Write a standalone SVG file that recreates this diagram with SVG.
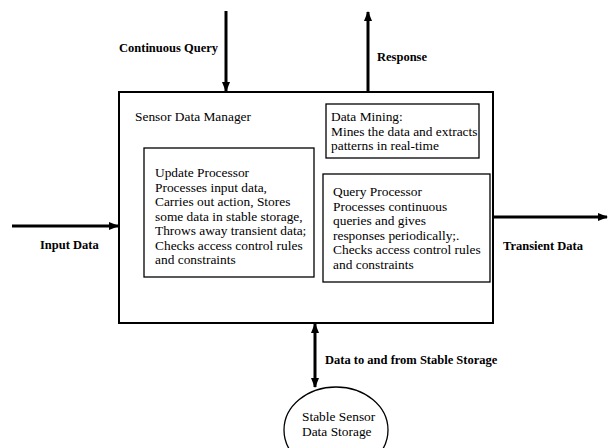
<svg xmlns="http://www.w3.org/2000/svg" width="608" height="448" viewBox="0 0 608 448">
<style>
text{font-family:"Liberation Serif","Times New Roman",serif;fill:#000}
.t{font-size:13.4px}
.b{font-size:12.5px;font-weight:bold}
.box{fill:none;stroke:#000;stroke-width:1.3}
.main{fill:#fff;stroke:#000;stroke-width:2}
.ar{stroke:#000;stroke-width:3;fill:none}
</style>
<defs>
<marker id="ah" markerUnits="userSpaceOnUse" markerWidth="10" markerHeight="10" viewBox="0 0 10 10" refX="9" refY="5" orient="auto-start-reverse">
<path d="M0,1 L10,5 L0,9 Z" fill="#000"/>
</marker>
</defs>
<g id="connectors">
<line class="ar" x1="226" y1="11" x2="226" y2="91" marker-end="url(#ah)"/>
<line class="ar" x1="368" y1="92" x2="368" y2="12" marker-end="url(#ah)"/>
<line class="ar" x1="12" y1="226" x2="118" y2="226" marker-end="url(#ah)"/>
<line class="ar" x1="493" y1="217" x2="607" y2="217" marker-end="url(#ah)"/>
<line class="ar" x1="315" y1="324" x2="315" y2="387" marker-start="url(#ah)" marker-end="url(#ah)"/>
<text class="b" x="119" y="52">Continuous Query</text>
<text class="b" x="377" y="61">Response</text>
<text class="b" x="40" y="249">Input Data</text>
<text class="b" x="503" y="250">Transient Data</text>
<text class="b" x="325" y="364">Data to and from Stable Storage</text>
</g>
<g id="manager">
<rect class="main" x="119" y="92" width="374" height="231"/>
<text class="t" x="135" y="121">Sensor Data Manager</text>
</g>
<g id="data-mining">
<rect class="box" x="326" y="104" width="153" height="54"/>
<text class="t" x="331" y="121">Data Mining:</text>
<text class="t" x="331" y="135.5">Mines the data and extracts</text>
<text class="t" x="331" y="150">patterns in real-time</text>
</g>
<g id="update-processor">
<rect class="box" x="144" y="148" width="170" height="129"/>
<text class="t" x="155" y="177">Update Processor</text>
<text class="t" x="155" y="191.5">Processes input data,</text>
<text class="t" x="155" y="206">Carries out action, Stores</text>
<text class="t" x="155" y="220.5">some data in stable storage,</text>
<text class="t" x="155" y="235">Throws away transient data;</text>
<text class="t" x="155" y="249.5">Checks access control rules</text>
<text class="t" x="155" y="264">and constraints</text>
</g>
<g id="query-processor">
<rect class="box" x="323" y="174" width="167" height="108"/>
<text class="t" x="333" y="196">Query Processor</text>
<text class="t" x="333" y="210.6">Processes continuous</text>
<text class="t" x="333" y="225.2">queries and gives</text>
<text class="t" x="333" y="239.8">responses periodically;.</text>
<text class="t" x="333" y="254.4">Checks access control rules</text>
<text class="t" x="333" y="269">and constraints</text>
</g>
<g id="storage">
<ellipse cx="336" cy="430" rx="52" ry="43" fill="#fff" stroke="#000" stroke-width="1.3"/>
<text class="t" x="302" y="421">Stable Sensor</text>
<text class="t" x="302" y="436">Data Storage</text>
</g>
</svg>
